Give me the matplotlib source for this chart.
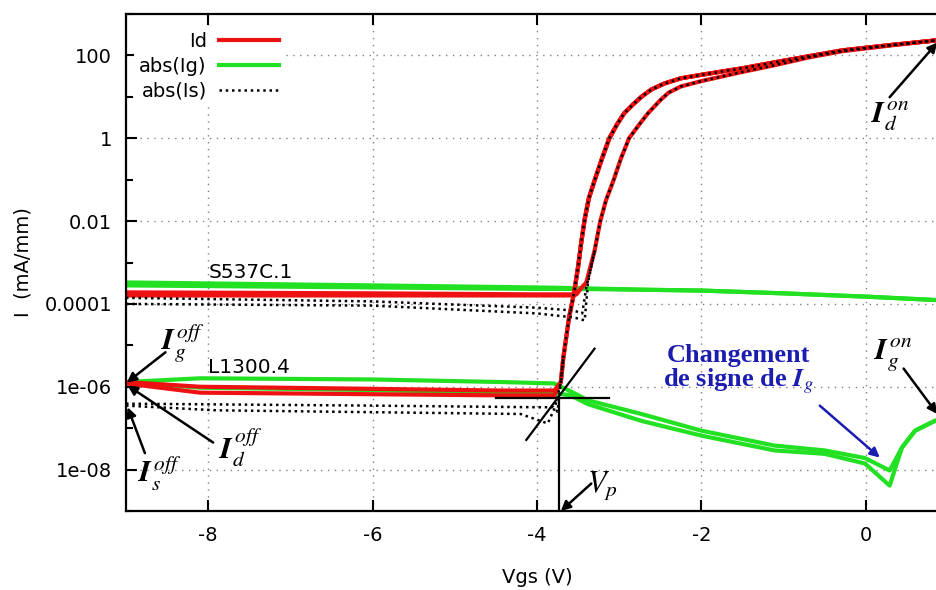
import matplotlib
matplotlib.use("Agg")
import matplotlib.pyplot as plt
import numpy as np
from matplotlib.ticker import NullFormatter

plt.rcParams["mathtext.fontset"] = "stix"
plt.rcParams["axes.unicode_minus"] = False

# ---- data (mA/mm vs Vgs) ----
# turn-on branches shared by the sweeps
x_on_left = [-3.71, -3.68, -3.61, -3.55, -3.50, -3.46, -3.42, -3.37, -3.30, -3.21, -3.12,
             -3.03, -2.94, -2.83, -2.73, -2.61, -2.45, -2.25, -2.00, -1.50, -1.11,
             -0.70, -0.29, 0.30, 0.84, 1.00]
i_on_left = [1.3e-6, 5.0e-6, 4.7e-5, 1.8e-4, 7.9e-4, 3.2e-3, 1.1e-2, 3.5e-2, 9.5e-2, 0.32, 1.0,
             2.1, 4.0, 6.6, 10, 15, 21, 28, 34, 49, 68,
             95, 132, 178, 229, 240]
x_on_right = [-3.52, -3.47, -3.40, -3.30, -3.23, -3.16, -3.07, -2.98, -2.88, -2.76, -2.65,
              -2.50, -2.40, -2.25, -2.00, -1.50, -1.11, -0.70, -0.29, 0.30, 0.84, 1.00]
i_on_right = [1.7e-4, 2.3e-4, 3.3e-4, 1.9e-3, 1.0e-2, 3.2e-2, 0.095, 0.32, 1.0, 2.1, 4.0,
              8.3, 12.6, 17.8, 24, 40, 58, 89, 126, 174, 229, 240]

# L1300.4
x_off_l = [-9.0, -8.1, -6.0, -4.44, -3.79]
id_l_a = [1.3e-6, 1.0e-6, 8.9e-7, 8.1e-7, 8.1e-7]
id_l_b = [1.2e-6, 7.2e-7, 6.6e-7, 6.2e-7, 6.2e-7]

x_ig_l = [-9.0, -8.1, -6.0, -4.44, -3.79, -3.6, -3.38, -2.73, -2.0, -1.11, -0.5,
          -0.01, 0.29, 0.44, 0.6, 0.84, 1.0]
ig_l_a = [1.3e-6, 1.6e-6, 1.5e-6, 1.3e-6, 1.2e-6, 7.9e-7, 4.7e-7, 2.2e-7, 8.7e-8,
          3.8e-8, 2.9e-8, 1.9e-8, 9.5e-9, 3.4e-8, 8.7e-8, 1.5e-7, 1.8e-7]
ig_l_b = [1.3e-6, 9.5e-7, 8.3e-7, 7.2e-7, 6.9e-7, 6.3e-7, 3.8e-7, 1.5e-7, 6.6e-8,
          2.9e-8, 2.4e-8, 1.4e-8, 4.1e-9, 3.4e-8, 8.7e-8, 1.5e-7, 1.8e-7]

x_is_l_a = [-9.0, -6.0, -4.0, -3.80, -3.75]
is_l_a = [3.9e-7, 3.5e-7, 3.2e-7, 3.2e-7, 2.5e-7]
x_is_l_b = [-9.0, -7.9, -4.2, -3.87, -3.78]
is_l_b = [3.5e-7, 2.7e-7, 2.2e-7, 1.3e-7, 3.2e-7]

# S537C.1
x_off_s = [-9.0, -6.0, -4.0, -3.56]
id_s_a = [1.9e-4, 1.8e-4, 1.7e-4, 1.7e-4]
id_s_b = [1.6e-4, 1.6e-4, 1.6e-4, 1.6e-4]

x_ig_s = [-9.0, -6.0, -4.0, -3.5, -2.7, -2.0, -1.0, 0.0, 1.0]
ig_s_a = [3.3e-4, 2.8e-4, 2.5e-4, 2.4e-4, 2.2e-4, 2.1e-4, 1.8e-4, 1.5e-4, 1.2e-4]
ig_s_b = [2.8e-4, 2.5e-4, 2.3e-4, 2.3e-4, 2.2e-4, 2.1e-4, 1.8e-4, 1.5e-4, 1.2e-4]

x_is_s_a = [-9.0, -6.0, -4.0, -3.55, -3.45, -3.40]
is_s_a = [1.4e-4, 1.15e-4, 8.1e-5, 6.9e-5, 5.9e-5, 2.5e-4]
x_is_s_b = [-9.0, -6.0, -4.0, -3.55, -3.42, -3.38]
is_s_b = [1.0e-4, 9.1e-5, 5.9e-5, 4.7e-5, 4.0e-5, 3.2e-4]

vp = -3.73

RED = "#ee1111"
GREEN = "#22e022"
BLUE = "#1c1cb0"

xl, il = np.array(x_on_left), np.array(i_on_left)
xr, ir = np.array(x_on_right), np.array(i_on_right)


def branch(xa, ya, xb, yb, after, upto=99.0):
    # off-state sweep followed by the on-state branch between `after` and `upto`
    keep = (xb > after) & (xb <= upto)
    return np.concatenate([xa, xb[keep]]), np.concatenate([ya, yb[keep]])


fig = plt.figure(figsize=(9.37, 5.9), dpi=100)
ax = fig.add_axes([126 / 937, 79 / 590, 822 / 937, 497 / 590])
ax.set_yscale("log")

lw = 3.0
# gate currents
ax.plot(x_ig_s, ig_s_a, color=GREEN, lw=lw, label="abs(Ig)")
ax.plot(x_ig_s, ig_s_b, color=GREEN, lw=lw)
ax.plot(x_ig_l, ig_l_a, color=GREEN, lw=lw)
ax.plot(x_ig_l, ig_l_b, color=GREEN, lw=lw)

# drain currents
ax.plot(*branch(x_off_l, id_l_a, xl, il, -3.79), color=RED, lw=lw, label="Id")
ax.plot(*branch(x_off_l, id_l_b, xl, il, -3.79), color=RED, lw=lw)
ax.plot(*branch(x_off_s, id_s_a, xl, il, -3.56), color=RED, lw=lw)
ax.plot(*branch(x_off_s, id_s_b, xr, ir, -3.56), color=RED, lw=lw)

# source currents (the second sweep of each device merges into the first)
dot = dict(color="black", lw=1.8, linestyle=(0, (1, 1.5)))
ax.plot(*branch(x_is_l_a, is_l_a, xl, il, -3.70), label="abs(Is)", **dot)
ax.plot(*branch(x_is_l_b, is_l_b, xl, il, -3.75, -3.68), **dot)
ax.plot(*branch(x_is_s_a, is_s_a, xr, ir, -3.35), **dot)
ax.plot(*branch(x_is_s_b, is_s_b, xr, ir, -3.35, -3.30), **dot)

ax.set_xlim(-9, 1)
ax.set_ylim(1e-9, 1e3)

# Vp construction
ax.plot([vp, vp], [1e-9, 5.5e-7], color="black", lw=1.6)
ax.plot([-4.50, -3.12], [5.5e-7, 5.5e-7], color="black", lw=1.6)
ax.plot([-4.13, -3.30], [5.2e-8, 8.3e-6], color="black", lw=1.6)

# ticks / grid
ax.set_xticks([-8, -6, -4, -2, 0])
ax.set_yticks([1e2, 1, 1e-2, 1e-4, 1e-6, 1e-8], ["100", "1", "0.01", "0.0001", "1e-06", "1e-08"])
ax.set_yticks([1e3, 10, 0.1, 1e-3, 1e-5, 1e-7, 1e-9], minor=True)
ax.yaxis.set_minor_formatter(NullFormatter())
ax.tick_params(which="both", direction="in", top=True, right=True, width=1.5, labelsize=14)
ax.tick_params(which="major", length=8)
ax.tick_params(which="minor", length=5)
ax.tick_params(axis="x", pad=11)
ax.tick_params(axis="y", pad=10)
ax.grid(True, which="major", linestyle=(0, (1, 4)), color="#808080", lw=1.0)
for s in ax.spines.values():
    s.set_linewidth(1.6)

ax.set_xlabel("Vgs (V)", fontsize=14)
ax.set_ylabel("I  (mA/mm)", fontsize=14)
ax.xaxis.set_label_coords(0.5, -0.115)
ax.yaxis.set_label_coords(-0.114, 0.5)

# legend, gnuplot style
h, l = ax.get_legend_handles_labels()
order = [l.index("Id"), l.index("abs(Ig)"), l.index("abs(Is)")]
leg = ax.legend([h[i] for i in order], [l[i] for i in order], loc="upper right",
                bbox_to_anchor=(0.193, 0.976), borderaxespad=0, markerfirst=False,
                fontsize=14, handlelength=3.1, handletextpad=0.6, labelspacing=0.3,
                borderpad=0.3, frameon=True, facecolor="white", edgecolor="none",
                framealpha=1, fancybox=False)

# device labels
ax.text(-8.0, 5.8e-4, "S537C.1", fontsize=14.5, va="center", ha="left")
ax.text(-8.0, 2.9e-6, "L1300.4", fontsize=14.5, va="center", ha="left")

arr = dict(arrowstyle="-|>", color="black", lw=1.8, mutation_scale=14, shrinkA=0, shrinkB=0)
ax.annotate("", xy=(-8.99, 1.26e-6), xytext=(-8.52, 6.8e-6), arrowprops=arr)
ax.annotate("", xy=(-8.98, 1.07e-6), xytext=(-7.94, 4.5e-8), arrowprops=arr)
ax.annotate("", xy=(-8.98, 3.2e-7), xytext=(-8.77, 2.5e-8), arrowprops=arr)
ax.annotate("", xy=(0.87, 204), xytext=(0.29, 9.8), arrowprops=arr)
ax.annotate("", xy=(0.87, 2.2e-7), xytext=(0.46, 2.75e-6), arrowprops=arr)
ax.annotate("", xy=(-3.71, 1.0e-9), xytext=(-3.34, 4.6e-9), arrowprops=arr)
ax.annotate("", xy=(0.17, 1.95e-8), xytext=(-0.56, 3.5e-7),
            arrowprops=dict(arr, color=BLUE))

mfs = 22
ax.text(-8.31, 1.1e-5, r"$\mathbfit{I}_g^{\,off}$", fontsize=mfs, ha="center", va="center")
ax.text(-7.60, 3.4e-8, r"$\mathbfit{I}_d^{\,off}$", fontsize=mfs, ha="center", va="center")
ax.text(-8.59, 7.9e-9, r"$\mathbfit{I}_s^{\,off}$", fontsize=mfs, ha="center", va="center")
ax.text(0.30, 3.5, r"$\mathbfit{I}_d^{\,on}$", fontsize=mfs, ha="center", va="center")
ax.text(0.34, 5.6e-6, r"$\mathbfit{I}_g^{\,on}$", fontsize=mfs, ha="center", va="center")
ax.text(-3.20, 4.1e-9, r"$\mathit{V}_p$", fontsize=mfs, ha="center", va="center")
ax.text(-1.55, 2.5e-6, "Changement\n" + r"de signe de $\mathbfit{I}_g$", fontsize=19,
        family="Liberation Serif", fontweight="bold", color=BLUE, ha="center",
        va="center", linespacing=1.0)

fig.savefig("out.png", dpi=100)
